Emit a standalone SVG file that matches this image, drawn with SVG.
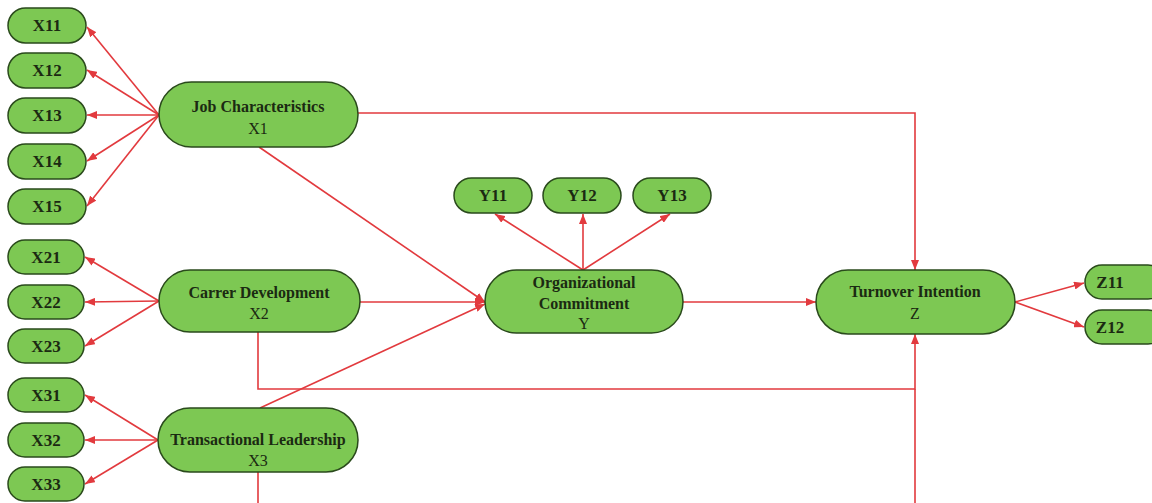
<svg xmlns="http://www.w3.org/2000/svg" width="1152" height="503" viewBox="0 0 1152 503">
<style>
.n{fill:#7dc853;stroke:#2a4a1c;stroke-width:1.5}
.t{font-family:"Liberation Serif","Times New Roman",serif;font-size:16px;fill:#1b2a12;text-anchor:middle}
.b{font-weight:bold}
.s{font-size:17px}
.c{fill:none;stroke:#e23a3e;stroke-width:1.6}
</style>
<defs>
<marker id="a" markerUnits="userSpaceOnUse" markerWidth="10" markerHeight="8" refX="10" refY="4" orient="auto">
<path d="M0,0 L10,4 L0,8 Z" fill="#e23a3e"/>
</marker>
</defs>
<rect width="1152" height="503" fill="#fff"/>
<g id="connectors">
<path class="c" marker-end="url(#a)" d="M159,115 L87,27"/>
<path class="c" marker-end="url(#a)" d="M159,115 L87,70"/>
<path class="c" marker-end="url(#a)" d="M159,115 L87,115"/>
<path class="c" marker-end="url(#a)" d="M159,115 L87,161"/>
<path class="c" marker-end="url(#a)" d="M159,115 L87,206"/>
<path class="c" marker-end="url(#a)" d="M159,301 L85,257"/>
<path class="c" marker-end="url(#a)" d="M159,301 L85,302"/>
<path class="c" marker-end="url(#a)" d="M159,301 L85,346"/>
<path class="c" marker-end="url(#a)" d="M158,440 L85,395"/>
<path class="c" marker-end="url(#a)" d="M158,440 L85,440"/>
<path class="c" marker-end="url(#a)" d="M158,440 L85,484"/>
<path class="c" marker-end="url(#a)" d="M583,270 L495,214"/>
<path class="c" marker-end="url(#a)" d="M583,270 L583,214"/>
<path class="c" marker-end="url(#a)" d="M583,270 L670,214"/>
<path class="c" marker-end="url(#a)" d="M1015,302 L1084,283"/>
<path class="c" marker-end="url(#a)" d="M1015,302 L1084,327"/>
<path class="c" marker-end="url(#a)" d="M358,113 L915,113 L915,270"/>
<path class="c" marker-end="url(#a)" d="M259,147 L485,302"/>
<path class="c" marker-end="url(#a)" d="M360,302 L485,302"/>
<path class="c" marker-end="url(#a)" d="M260,408 L485,304"/>
<path class="c" marker-end="url(#a)" d="M683,302 L816,302"/>
<path class="c" marker-end="url(#a)" d="M258,332 L258,389 L915,389 L915,334"/>
<path class="c" d="M258,472 L258,510 L915,510 L915,389"/>
</g>
<g id="X11"><rect class="n" x="8" y="8" width="78" height="35" rx="17.5"/><text class="t b s" x="47" y="31">X11</text></g>
<g id="X12"><rect class="n" x="8" y="53" width="78" height="35" rx="17.5"/><text class="t b s" x="47" y="76">X12</text></g>
<g id="X13"><rect class="n" x="8" y="98" width="78" height="35" rx="17.5"/><text class="t b s" x="47" y="121">X13</text></g>
<g id="X14"><rect class="n" x="8" y="144" width="78" height="35" rx="17.5"/><text class="t b s" x="47" y="167">X14</text></g>
<g id="X15"><rect class="n" x="8" y="189" width="78" height="35" rx="17.5"/><text class="t b s" x="47" y="212">X15</text></g>
<g id="X21"><rect class="n" x="8" y="240" width="76" height="34" rx="17"/><text class="t b s" x="46" y="263">X21</text></g>
<g id="X22"><rect class="n" x="8" y="285" width="76" height="34" rx="17"/><text class="t b s" x="46" y="308">X22</text></g>
<g id="X23"><rect class="n" x="8" y="329" width="76" height="34" rx="17"/><text class="t b s" x="46" y="352">X23</text></g>
<g id="X31"><rect class="n" x="8" y="378" width="76" height="34" rx="17"/><text class="t b s" x="46" y="401">X31</text></g>
<g id="X32"><rect class="n" x="8" y="423" width="76" height="34" rx="17"/><text class="t b s" x="46" y="446">X32</text></g>
<g id="X33"><rect class="n" x="8" y="467" width="76" height="34" rx="17"/><text class="t b s" x="46" y="490">X33</text></g>
<g id="X1"><rect class="n" x="159" y="82" width="199" height="65" rx="32.5"/><text class="t b" x="258" y="112">Job Characteristics</text><text class="t" x="258" y="134">X1</text></g>
<g id="X2"><rect class="n" x="159" y="270" width="201" height="62" rx="31"/><text class="t b" x="259" y="298">Carrer Development</text><text class="t" x="259" y="319">X2</text></g>
<g id="X3"><rect class="n" x="158" y="408" width="200" height="64" rx="32"/><text class="t b" x="258" y="445">Transactional Leadership</text><text class="t" x="258" y="466">X3</text></g>
<g id="Y11"><rect class="n" x="454" y="178" width="78" height="35" rx="17.5"/><text class="t b s" x="493" y="201">Y11</text></g>
<g id="Y12"><rect class="n" x="543" y="178" width="78" height="35" rx="17.5"/><text class="t b s" x="582" y="201">Y12</text></g>
<g id="Y13"><rect class="n" x="633" y="178" width="78" height="35" rx="17.5"/><text class="t b s" x="672" y="201">Y13</text></g>
<g id="Y"><rect class="n" x="485" y="270" width="198" height="63" rx="31.5"/><text class="t b" x="584" y="288">Organizational</text><text class="t b" x="584" y="309">Commitment</text><text class="t" x="584" y="329">Y</text></g>
<g id="Z"><rect class="n" x="816" y="270" width="199" height="64" rx="32"/><text class="t b" x="915" y="297">Turnover Intention</text><text class="t" x="915" y="319">Z</text></g>
<g id="Z11"><rect class="n" x="1085" y="265" width="80" height="34" rx="17"/><text class="t b s" x="1110" y="288">Z11</text></g>
<g id="Z12"><rect class="n" x="1085" y="310" width="80" height="34" rx="17"/><text class="t b s" x="1110" y="333">Z12</text></g>
</svg>
